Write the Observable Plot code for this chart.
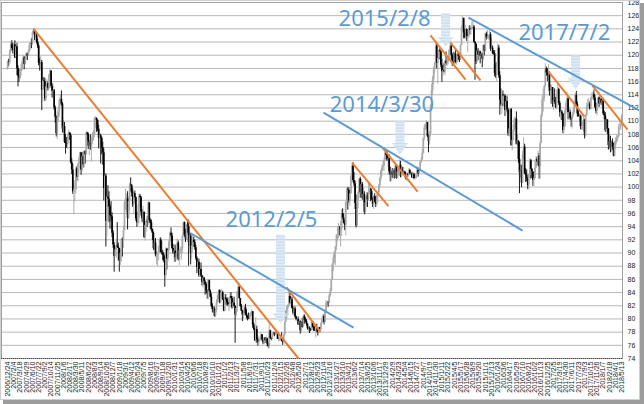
<!DOCTYPE html>
<html><head><meta charset="utf-8">
<script src="https://cdn.jsdelivr.net/npm/d3@7"></script>
<script src="https://cdn.jsdelivr.net/npm/@observablehq/plot@0.6"></script>
<style>
html,body{margin:0;padding:0;background:#fff;}
#chart{position:relative;width:644px;height:404px;overflow:hidden;}
</style></head><body><div id="chart"></div>
<script>
// Weekly USD/JPY candles, week starting 2006/12/24 ... 2018/5/13 (595 weeks)
const firstOpen = 117.9;
const weekClose = [
119.0,
// 2007
118.9,120.6,121.6,121.0,120.8,121.6,119.6,121.3,118.0,116.8,116.5,117.5,117.8,118.9,119.6,118.6,119.5,120.2,119.8,120.5,121.5,121.8,121.7,123.4,123.8,123.2,123.3,122.0,121.4,118.8,118.7,118.9,114.7,116.1,116.0,113.4,115.2,115.7,115.0,117.0,117.6,115.3,114.5,114.6,112.0,110.6,108.1,110.5,111.6,113.2,113.3,112.6,108.8,
// 2008
109.2,106.8,106.7,106.5,107.6,108.2,107.8,103.7,102.6,99.3,99.6,99.6,102.8,101.5,103.5,104.3,105.2,102.6,104.6,103.4,105.4,104.9,108.2,107.9,106.2,106.8,106.2,106.9,107.9,107.9,110.4,110.4,110.1,108.8,107.4,107.8,107.4,106.0,105.2,99.8,101.7,94.8,98.5,98.2,97.0,95.7,95.5,93.0,91.2,89.5,90.5,91.1,
// 2009
90.9,90.7,88.8,89.9,92.0,91.9,93.4,97.6,98.2,98.2,95.3,97.8,100.3,100.2,99.1,97.3,99.0,98.4,95.2,94.6,95.3,98.6,98.4,96.2,95.2,96.2,92.4,94.2,94.8,94.6,97.6,94.9,94.6,93.6,93.0,90.7,91.5,89.7,89.8,89.8,90.9,92.0,90.1,90.0,89.7,88.9,86.6,90.6,89.1,90.4,91.7,93.0,
// 2010
92.6,90.7,90.0,90.3,89.3,89.9,91.5,89.0,90.4,90.5,90.6,92.5,94.6,92.7,92.1,94.1,94.0,91.6,92.6,90.0,91.1,91.9,91.6,90.8,89.2,87.8,88.6,86.6,87.5,86.5,85.5,86.2,85.6,85.2,84.3,83.8,85.8,84.2,83.3,81.9,81.4,81.4,80.4,81.3,82.5,83.5,84.3,82.5,83.9,84.0,82.9,81.2,
// 2011
83.2,82.9,82.5,82.1,82.2,83.4,83.1,81.7,82.4,81.9,80.6,81.6,84.1,84.8,83.1,81.9,81.2,80.6,80.8,81.7,80.8,80.4,80.2,80.0,80.4,80.8,81.1,79.1,78.4,76.7,78.4,76.8,76.5,76.7,76.8,77.6,76.8,76.4,77.1,76.7,77.0,76.2,75.8,78.2,77.0,76.9,77.7,77.9,77.6,77.8,78.0,76.9,
// 2012
76.9,76.9,77.0,76.7,76.6,77.6,79.5,81.2,81.7,82.0,83.4,82.4,82.9,81.6,80.9,81.5,80.3,79.9,79.9,79.1,79.6,78.2,79.5,78.7,80.4,79.8,79.6,79.2,78.5,78.5,78.4,78.3,79.5,78.7,78.3,78.2,78.4,78.3,77.9,78.7,78.4,79.3,79.9,80.4,79.5,81.3,82.4,82.5,82.4,83.5,84.2,85.9,88.2,
// 2013
89.2,90.1,90.9,92.7,92.7,93.5,93.4,93.6,96.0,95.3,94.5,94.2,97.6,99.6,99.5,98.0,99.0,101.6,103.2,101.0,100.5,97.5,94.1,97.9,99.2,101.2,99.2,100.4,98.3,98.9,96.2,97.6,98.7,98.1,99.1,99.4,99.3,98.2,97.4,98.6,97.7,97.4,98.7,99.1,100.2,101.3,102.4,102.9,103.2,104.0,105.2,104.8,
// 2014
104.1,104.3,102.3,102.0,102.3,101.8,102.5,101.8,103.3,101.3,102.3,102.8,103.3,101.6,102.4,102.2,102.2,101.8,101.5,101.9,101.8,102.5,102.0,102.0,101.4,102.0,101.3,101.3,101.8,102.6,102.0,102.4,103.8,104.1,105.1,107.4,109.0,109.3,109.8,107.7,106.9,108.1,112.3,114.6,116.3,117.8,118.7,121.4,118.8,119.5,120.7,
// 2015
120.5,118.5,117.5,117.7,117.5,119.1,118.7,119.0,119.6,120.8,121.4,120.0,119.1,119.0,120.2,118.9,118.9,120.2,119.8,119.3,121.5,124.1,125.6,123.4,122.7,123.9,122.8,122.8,124.0,123.8,123.9,124.2,124.3,122.0,121.7,119.0,120.6,120.0,120.5,119.9,120.2,119.4,121.5,120.6,123.2,122.6,122.8,122.8,123.1,120.9,121.1,120.3,120.2,
// 2016
117.2,117.0,118.8,121.1,116.9,113.2,112.6,114.0,113.8,113.8,111.6,113.0,111.7,108.1,108.8,111.8,106.3,107.1,108.6,110.2,110.3,106.5,107.0,104.2,102.2,102.5,100.6,104.8,106.1,102.1,101.8,101.3,100.2,101.8,104.0,102.7,102.3,101.0,101.3,102.9,104.2,103.8,104.7,103.1,106.6,110.9,113.2,113.5,115.3,117.9,117.3,116.9,
// 2017
117.0,114.5,114.6,115.1,112.6,113.2,112.9,112.1,114.0,114.8,112.7,111.3,111.4,111.1,108.6,109.1,111.5,112.7,113.4,111.3,111.3,110.4,110.3,110.9,111.3,112.4,113.9,112.5,111.1,110.7,110.7,109.2,109.2,109.4,110.2,107.8,110.8,112.0,112.5,112.6,111.8,113.5,113.7,114.1,113.5,112.1,111.5,112.2,113.5,112.6,113.3,112.7,
// 2018
113.1,111.1,110.8,108.6,110.2,108.8,106.3,106.9,105.7,106.8,106.0,104.7,106.3,106.9,107.4,107.7,109.0,109.1,109.4,110.8
];
const weekHigh = [
119.1,
119.4,120.8,121.9,122.2,121.8,121.8,122.2,121.5,121.8,118.4,117.8,118.0,118.6,119.3,120.0,119.8,119.9,120.4,120.3,120.8,121.8,122.0,122.5,123.6,124.1,123.9,123.5,123.5,122.5,121.7,119.5,119.8,119.2,116.8,116.6,116.5,115.4,116.3,116.0,117.1,117.9,117.6,115.7,115.5,114.8,112.3,110.8,111.3,112.2,113.5,114.0,114.6,112.8,
110.1,109.8,107.9,107.5,107.9,108.6,108.3,108.1,104.3,103.5,100.5,101.0,103.0,103.1,103.6,104.6,105.3,105.2,105.3,105.3,105.5,105.5,108.4,108.3,108.2,107.1,107.9,107.5,108.3,108.6,110.6,110.7,110.5,110.2,109.4,108.3,108.0,107.6,106.8,105.8,102.0,102.0,99.5,100.2,99.3,97.4,97.8,96.1,93.4,91.6,91.0,91.9,
94.6,91.5,90.7,90.5,92.2,92.3,94.1,98.0,99.7,99.0,99.3,98.6,100.6,101.4,100.4,99.7,99.3,99.4,98.5,96.2,97.3,98.9,98.9,98.6,96.6,97.1,96.1,94.6,95.1,95.5,97.8,97.6,95.2,95.0,93.6,93.2,91.9,92.2,90.2,90.0,91.1,92.3,92.3,91.8,90.4,90.0,89.4,90.8,90.0,90.8,92.0,93.2,
93.8,93.0,91.3,91.2,91.2,90.2,92.1,91.8,90.5,90.9,90.9,92.7,94.7,94.7,93.6,94.3,94.8,95.0,93.9,93.0,91.8,92.8,92.4,92.0,91.2,89.4,88.9,89.1,87.7,88.5,86.6,86.5,86.3,85.8,85.5,84.4,85.9,85.9,84.4,83.8,82.3,81.8,81.8,81.5,82.9,83.7,84.4,84.4,84.2,84.5,84.2,83.2,
83.7,83.7,83.0,83.2,82.3,83.8,84.0,83.4,82.8,83.3,82.0,81.7,84.2,85.5,85.0,83.1,82.2,81.3,81.3,82.0,82.2,81.4,80.5,80.9,80.8,81.0,81.4,81.1,79.4,78.6,80.2,78.9,77.1,77.4,77.1,77.9,77.5,76.8,77.2,77.1,77.4,77.1,76.5,79.5,78.3,77.2,77.9,78.1,77.9,78.3,78.2,78.1,
77.2,77.2,77.4,77.9,76.8,77.7,79.6,81.3,81.9,82.2,84.2,83.9,83.3,83.3,81.9,81.9,81.8,80.4,80.1,80.3,79.9,79.7,79.7,80.1,80.6,80.6,80.2,79.9,79.3,78.8,78.8,78.6,79.6,79.6,78.8,78.9,78.5,79.2,78.4,78.8,78.6,79.4,80.3,80.7,80.6,81.4,82.8,82.6,82.7,83.8,84.6,86.0,88.4,
89.7,90.2,91.0,92.8,94.0,94.5,94.0,94.8,96.6,96.7,95.9,94.9,97.8,99.9,99.9,99.9,99.2,101.9,103.3,103.7,102.2,100.9,98.8,98.2,99.4,101.3,101.5,101.2,100.7,99.9,99.3,98.4,99.2,99.1,100.6,100.6,99.8,99.7,98.4,98.7,99.0,98.5,98.9,99.2,100.4,101.5,102.6,103.4,103.9,104.4,105.4,105.4,
105.4,104.9,104.9,103.0,102.6,102.8,102.7,102.8,103.7,103.4,102.7,103.0,104.1,103.9,102.7,103.0,103.0,102.4,102.3,101.9,102.1,102.8,102.7,102.4,102.2,102.3,102.0,101.8,101.9,103.1,102.9,102.6,104.0,104.5,105.7,107.4,109.5,109.5,110.1,109.0,108.0,108.4,112.5,115.6,116.8,118.2,118.9,121.8,121.7,119.6,120.8,
121.0,120.6,119.4,118.9,118.7,119.2,120.5,119.5,119.8,120.9,122.0,121.6,120.2,120.4,120.4,120.8,120.1,120.2,120.5,120.3,121.6,124.5,125.9,125.0,123.9,124.5,124.0,123.2,124.4,124.5,124.2,125.1,125.3,124.5,122.0,121.7,121.2,121.0,120.8,120.6,120.5,120.2,121.5,121.5,123.3,123.5,123.8,123.0,123.7,123.4,122.6,121.4,120.7,
120.7,118.8,118.9,121.7,121.5,117.5,114.9,114.0,114.6,114.2,114.0,113.3,113.8,111.9,109.8,111.9,111.9,107.5,109.4,110.6,110.5,111.4,107.9,107.0,106.8,103.4,103.3,105.4,107.5,106.5,102.8,102.6,101.4,102.0,104.3,104.2,102.8,102.3,101.7,104.1,104.6,104.5,105.5,105.1,106.9,111.0,113.9,114.8,115.4,118.7,118.2,118.0,
118.6,117.5,115.6,115.4,115.0,113.6,114.9,113.6,114.7,115.5,115.0,113.0,112.2,111.6,111.2,109.5,111.8,113.0,114.4,113.5,112.1,111.7,110.7,111.4,111.8,113.0,114.2,114.5,112.9,111.8,111.0,110.9,110.9,109.9,110.7,110.3,111.0,112.7,113.3,113.4,112.9,113.6,114.3,114.4,114.7,113.9,112.7,112.9,113.6,113.7,113.7,113.5,
113.3,113.4,111.5,111.3,110.5,110.0,108.9,107.9,107.7,107.0,107.3,106.6,106.9,107.5,107.8,107.9,109.5,110.0,109.8,111.0
];
const weekLow = [
117.7,
118.3,118.6,120.4,120.6,120.2,119.8,119.5,119.5,116.9,115.2,115.9,116.3,116.8,117.6,118.9,117.8,118.5,119.3,119.2,119.8,120.4,120.8,121.0,121.5,123.0,122.2,122.6,121.7,121.0,118.4,117.6,117.9,111.6,112.9,114.8,113.0,113.0,114.5,114.6,114.8,116.6,115.0,113.5,114.3,111.6,109.7,107.6,107.2,109.8,110.6,112.3,112.3,108.2,
108.2,106.6,105.0,105.9,105.7,106.6,107.1,103.5,101.9,98.9,95.8,97.7,99.0,100.9,100.8,102.1,102.8,101.8,102.3,102.9,102.9,103.5,105.2,107.0,105.7,104.8,105.6,103.8,106.4,107.0,107.5,108.9,108.3,108.4,105.8,105.8,103.5,104.9,103.3,97.9,98.6,90.9,92.5,96.9,94.6,93.6,94.8,92.3,90.7,87.1,89.6,89.2,
90.7,88.8,87.1,88.1,88.6,89.4,90.7,93.6,96.5,96.1,93.5,95.1,96.3,99.3,98.5,96.9,95.8,97.6,94.8,93.9,94.1,94.4,96.8,95.6,94.6,95.2,92.2,91.8,93.1,93.9,94.2,94.5,93.5,93.2,91.9,90.4,90.3,89.4,88.2,88.0,88.8,90.0,90.0,89.7,88.8,88.5,84.8,86.3,87.4,88.6,89.8,91.0,
91.7,90.5,89.8,88.6,88.6,88.8,89.4,88.8,88.1,89.8,88.9,89.9,92.4,92.4,91.6,91.9,93.0,88.0,90.9,88.2,89.0,90.5,90.9,90.4,88.9,86.9,87.3,86.3,86.3,86.3,85.0,84.7,85.1,83.6,83.9,83.0,82.9,84.1,83.2,81.7,80.9,80.9,80.3,80.2,80.9,82.3,82.9,82.3,82.3,83.2,82.8,81.1,
81.1,82.2,82.0,81.9,81.1,81.6,82.9,81.5,81.6,81.8,76.3,80.3,81.0,83.6,83.0,81.8,81.1,79.6,80.0,80.5,80.5,80.0,79.7,79.9,80.0,80.2,80.5,78.6,78.2,76.6,76.3,76.3,75.9,76.1,76.6,76.8,76.6,76.1,76.1,76.3,76.4,75.8,75.6,75.4,76.9,76.7,76.8,77.4,77.3,77.5,77.8,76.9,
76.5,76.6,76.6,76.5,76.0,76.2,77.3,79.4,80.0,80.5,81.7,82.2,81.9,81.5,80.6,80.4,80.1,79.7,79.6,79.0,79.0,77.7,77.9,78.6,78.8,79.2,79.4,78.9,78.3,77.9,77.8,78.1,78.2,78.6,78.1,78.1,77.1,77.9,77.4,77.9,78.0,78.3,79.2,79.5,79.1,79.4,81.1,81.7,81.8,82.4,83.3,84.1,85.9,
87.2,88.4,88.1,90.4,91.8,92.2,92.6,90.9,92.5,95.0,94.4,93.4,92.6,97.3,96.5,97.6,97.1,98.9,101.4,100.7,100.1,96.6,93.8,94.2,96.7,98.9,98.3,98.9,98.0,97.6,95.8,95.8,97.0,96.9,97.9,98.9,97.8,98.0,96.9,96.6,97.6,96.9,97.1,97.6,98.8,99.9,100.9,101.6,102.4,102.4,103.9,104.2,
103.9,102.9,101.8,100.8,100.8,101.3,101.3,101.2,101.7,101.2,101.3,101.7,102.8,101.4,101.4,102.0,101.9,101.4,101.1,100.8,101.5,101.8,101.8,101.7,101.3,101.2,101.1,101.1,101.2,101.8,101.5,102.0,102.4,103.6,104.1,105.0,107.0,108.6,108.7,107.5,105.2,106.4,107.6,112.2,113.9,115.5,117.2,118.6,117.9,115.6,119.4,
119.3,118.1,115.9,116.8,117.3,116.9,118.4,118.3,118.6,119.3,120.6,119.3,118.3,118.7,118.6,118.7,118.5,118.8,119.2,118.9,119.2,121.5,123.7,122.5,122.5,122.4,122.1,120.4,122.6,123.1,123.0,123.9,123.8,121.8,116.2,118.6,118.9,119.2,119.7,118.7,119.6,118.1,119.1,119.9,120.5,122.3,122.4,122.3,122.3,120.6,121.0,120.1,120.0,
116.7,116.5,115.9,118.1,116.5,110.9,112.3,111.0,112.2,112.2,110.7,111.0,111.4,107.7,107.6,107.6,106.2,105.5,107.0,108.3,108.7,106.4,106.2,103.6,99.0,101.4,99.9,100.7,104.1,101.9,100.7,100.8,99.6,99.6,101.4,101.2,101.3,100.1,100.1,101.1,102.8,103.2,103.5,101.2,101.2,106.6,110.6,111.4,112.9,115.1,116.8,116.0,
115.1,113.8,112.6,112.5,112.1,111.6,112.6,111.9,111.7,113.4,112.4,110.6,110.1,110.1,108.1,108.1,109.1,111.0,112.6,110.2,110.8,110.1,109.1,108.8,110.6,111.1,112.1,112.4,110.6,110.6,109.9,108.7,108.6,108.6,108.3,107.3,107.6,110.8,111.5,112.3,111.7,111.7,113.1,113.3,113.1,111.9,111.1,110.8,112.1,112.1,112.5,112.4,
112.0,110.9,110.2,108.3,108.3,108.0,105.6,106.0,105.2,105.3,105.6,104.6,104.6,105.7,106.6,106.9,107.5,108.7,108.6,109.4
];
// category labels shown every 6th week
const tickLabels = ["2006/12/24","2007/2/4","2007/3/18","2007/4/29","2007/6/10","2007/7/22","2007/9/2","2007/10/14","2007/11/25","2008/1/6","2008/2/17","2008/3/30","2008/5/11","2008/6/22","2008/8/3","2008/9/14","2008/10/26","2008/12/7","2009/1/18","2009/3/1","2009/4/12","2009/5/24","2009/7/5","2009/8/16","2009/9/27","2009/11/8","2009/12/20","2010/1/31","2010/3/14","2010/4/25","2010/6/6","2010/7/18","2010/8/29","2010/10/10","2010/11/21","2011/1/2","2011/2/13","2011/3/27","2011/5/8","2011/6/19","2011/7/31","2011/9/11","2011/10/23","2011/12/4","2012/1/15","2012/2/26","2012/4/8","2012/5/20","2012/7/1","2012/8/12","2012/9/23","2012/11/4","2012/12/16","2013/1/27","2013/3/10","2013/4/21","2013/6/2","2013/7/14","2013/8/25","2013/10/6","2013/11/17","2013/12/29","2014/2/9","2014/3/23","2014/5/4","2014/6/15","2014/7/27","2014/9/7","2014/10/19","2014/11/30","2015/1/11","2015/2/22","2015/4/5","2015/5/17","2015/6/28","2015/8/9","2015/9/20","2015/11/1","2015/12/13","2016/1/24","2016/3/6","2016/4/17","2016/5/29","2016/7/10","2016/8/21","2016/10/2","2016/11/13","2016/12/25","2017/2/5","2017/3/19","2017/4/30","2017/6/11","2017/7/23","2017/9/3","2017/10/15","2017/11/26","2018/1/7","2018/2/18","2018/4/1","2018/5/13"];
const yTicks = [74,76,78,80,82,84,86,88,90,92,94,96,98,100,102,104,106,108,110,112,114,116,118,120,122,124,126,128];

// trend lines (week index, price)
const orangeLines = [
  {x1:25, y1:124.0, x2:281.3, y2:74.0},
  {x1:269.7, y1:84.8, x2:302.6, y2:78.0},
  {x1:333, y1:103.7, x2:368.3, y2:97.1},
  {x1:362.5, y1:106.0, x2:396.4, y2:99.3},
  {x1:408.9, y1:123.0, x2:442.8, y2:116.3},
  {x1:428.3, y1:121.9, x2:457.3, y2:116.2},
  {x1:523.1, y1:117.5, x2:557.9, y2:110.7},
  {x1:565.6, y1:115.4, x2:599.5, y2:108.7}
];
const blueLines = [
  {x1:176.9, y1:93.0, x2:334.5, y2:78.7},
  {x1:305.5, y1:111.3, x2:497.9, y2:93.4},
  {x1:445.7, y1:125.7, x2:614.9, y2:111.3}
];
// block arrows: centre week, top, head start, tip
const arrows = [
  {i:264.4, top:92.7, head:80.8, tip:79.2},
  {i:379.9, top:110.1, head:106.6, tip:104.8},
  {i:424.0, top:126.3, head:122.7, tip:121.2},
  {i:549.7, top:120.0, head:116.5, tip:114.7}
];
const notes = [
  {label:"2012/2/5", i:255.2, v:95.0},
  {label:"2014/3/30", i:362.0, v:112.45},
  {label:"2015/2/8", i:364.5, v:125.5},
  {label:"2017/7/2", i:538.5, v:123.45}
];

const candles = weekClose.map((c, i) => {
  const o = i === 0 ? firstOpen : weekClose[i - 1];
  return {i, o, c, h: Math.max(weekHigh[i], o, c), l: Math.min(weekLow[i], o, c), up: c >= o};
});
const heads = arrows.flatMap((a, k) => [
  {k, x: a.i - 7.7, y1: a.head, y2: a.head},
  {k, x: a.i, y1: a.head, y2: a.tip},
  {k, x: a.i + 7.7, y1: a.head, y2: a.head}
]);
const col = d => d.up ? "#a8a8a8" : "#000";

const chart = Plot.plot({
  width: 644, height: 404,
  marginLeft: 1, marginRight: 22, marginTop: 2, marginBottom: 46,
  style: {fontFamily: "'Liberation Sans', Arial, sans-serif", fontSize: "7px", background: "#fff", color: "#222"},
  x: {type: "linear", domain: [-5.95, 594.65], ticks: tickLabels.map((_, k) => k * 6),
      tickFormat: v => tickLabels[Math.round(v / 6)], tickRotate: -90, tickSize: 0, tickPadding: 3, label: null},
  y: {domain: [74, 128], ticks: yTicks, axis: "right", tickSize: 0, tickPadding: 5, label: null, tickFormat: d => d},
  marks: [
    Plot.ruleY(yTicks, {stroke: "#b8b8b8", strokeWidth: 1}),
    Plot.frame({stroke: "#a0a0a0"}),
    Plot.ruleY([74], {stroke: "#444", strokeDasharray: "1,1"}),
    Plot.ruleX(candles, {x: "i", y1: "l", y2: "h", stroke: col, strokeWidth: 0.9}),
    Plot.ruleX(candles, {x: "i", y1: "o", y2: "c", stroke: col, strokeWidth: 1.7}),
    Plot.rect(arrows, {x1: d => d.i - 4.35, x2: d => d.i + 4.35, y1: "top", y2: "head", fill: "url(#stripe)", fillOpacity: 0.85}),
    Plot.areaY(heads, {x: "x", y1: "y1", y2: "y2", z: "k", fill: "url(#stripe)", fillOpacity: 0.85}),
    Plot.link(orangeLines, {x1: "x1", y1: "y1", x2: "x2", y2: "y2", stroke: "#ed7d31", strokeWidth: 2}),
    Plot.link(blueLines, {x1: "x1", y1: "y1", x2: "x2", y2: "y2", stroke: "#5b9bd5", strokeWidth: 2}),
    Plot.text(notes, {x: "i", y: "v", text: "label", fill: "#5b9bd5", fontSize: 22,
      fontFamily: "'Noto Sans', 'Open Sans', sans-serif", textAnchor: "middle", lineAnchor: "middle"})
  ]
});
document.getElementById("chart").appendChild(chart);

// stripe pattern for the block arrows, plus the picture's border and drop shadow
const svg = d3.select(chart);
const defs = svg.insert("defs", ":first-child");
const pat = defs.append("pattern").attr("id", "stripe").attr("patternUnits", "userSpaceOnUse")
  .attr("width", 6).attr("height", 3);
pat.append("rect").attr("width", 6).attr("height", 3).attr("fill", "#c3daf0");
pat.append("rect").attr("width", 6).attr("height", 1.5).attr("fill", "#dde9f6");
svg.append("rect").attr("x", 640).attr("y", 3).attr("width", 4).attr("height", 401).attr("fill", "#9c9c9c");
svg.append("rect").attr("x", 3).attr("y", 400).attr("width", 641).attr("height", 4).attr("fill", "#9c9c9c");
svg.append("rect").attr("x", 0.5).attr("y", 0.5).attr("width", 639).attr("height", 399).attr("fill", "none").attr("stroke", "#cfcfcf");
</script></body></html>
